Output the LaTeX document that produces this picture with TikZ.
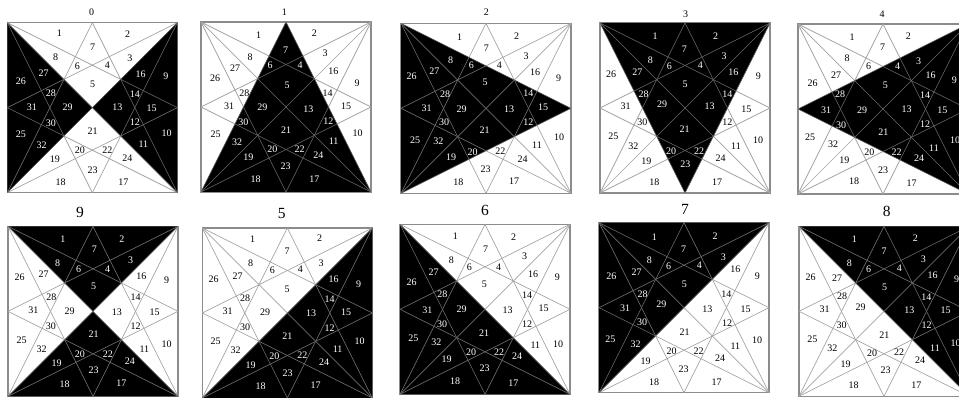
\documentclass[tikz,border=0pt]{standalone}
\usepackage{fontspec}
\setmainfont{Liberation Serif}
\makeatletter
\newcommand\labcol[2]{\edef\tmpa{\noexpand\in@{,#1,}{,#2,}}\tmpa\ifin@\def\lc{white}\else\def\lc{black}\fi}
\makeatother
\definecolor{wire}{gray}{0.64}
\definecolor{wiredark}{gray}{0.42}
\definecolor{frameline}{gray}{0.55}
\tikzset{
  lbl/.style={inner sep=0pt,font=\fontsize{10}{11}\selectfont},
  wirel/.style={draw=wire,line width=0.7pt},
  wired/.style={draw=wiredark,line width=0.6pt},
  framel/.style={draw=frameline,line width=1.1pt},
  smalltitle/.style={inner sep=0pt,font=\fontsize{10}{11}\selectfont},
  bigtitle/.style={inner sep=0pt,font=\fontsize{15.5}{16}\selectfont},
}
\newcommand\wires[1]{%
  \draw[#1] (TL) -- (BR);
  \draw[#1] (TR) -- (BL);
  \draw[#1] (T) -- (BL);
  \draw[#1] (T) -- (BR);
  \draw[#1] (B) -- (TL);
  \draw[#1] (B) -- (TR);
  \draw[#1] (L) -- (TR);
  \draw[#1] (L) -- (BR);
  \draw[#1] (R) -- (TL);
  \draw[#1] (R) -- (BL);
}
% #1 id, #2/#3 crop origin px, #4/#5 square left/top (1/3 px), #6/#7 title pos, #8 title style
\newcommand\panel[8]{%
\begin{scope}[shift={(#2,#3)},x=0.33333pt,y=-0.33333pt,name prefix=p#1-]
  \coordinate (TL) at (#4,#5);
  \coordinate (TR) at (#4+510,#5);
  \coordinate (BL) at (#4,#5+510);
  \coordinate (BR) at (#4+510,#5+510);
  \coordinate (T) at (#4+255,#5);
  \coordinate (B) at (#4+255,#5+510);
  \coordinate (L) at (#4,#5+255);
  \coordinate (R) at (#4+510,#5+255);
  \coordinate (C) at (#4+255,#5+255);
  \draw[framel] (TL) -- (TR) -- (BR) -- (BL) -- cycle;
  \wires{wirel}
  \fill[black] \polypath;
  \begin{scope}
    \clip \polypath;
    \wires{wired}
  \end{scope}
  \node[#8] (title) at (#6,#7) {#1};
  \foreach \n/\x/\y in \labs {
    \labcol{\n}{\wh}
    \node[lbl,text=\lc] (n\n) at (\x,\y) {\n};
  }
\end{scope}}
\begin{document}
\begin{tikzpicture}[x=1pt,y=-1pt]
\clip (0,0) rectangle (959,398);
\fill[white] (0,0) rectangle (959,398);

\def\wh{9,10,11,12,13,14,15,16,25,26,27,28,29,30,31,32}
\def\polypath{(TL)--(BL)--(C)--cycle (TR)--(BR)--(C)--cycle}
\def\labs{1/178/100,2/383/103,3/390/175,4/322/197,5/278/253,6/232/198,7/278/142,8/167/172,9/498/229,10/500/400,11/430/432,12/405/368,13/352/323,14/405/282,15/455/325,16/422/224,17/370/547,18/182/546,19/165/478,20/240/452,21/278/395,22/322/452,23/278/511,24/382/474,25/63/402,26/63/245,27/131/219,28/153/280,29/203/323,30/153/369,31/96/321,32/125/436}
\panel{0}{0}{0}{22}{68}{275}{36}{smalltitle}

\def\wh{4,5,6,7,11,12,13,17,18,19,20,21,22,23,24,29,30,32}
\def\polypath{(T)--(BL)--(BR)--cycle}
\def\labs{1/191/107,2/358/101,3/390/160,4/315/196,5/276/256,6/225/197,7/272/150,8/165/173,9/486/250,10/488/399,11/416/425,12/400/365,13/340/327,14/398/280,15/453/320,16/415/215,17/358/537,18/182/537,19/160/472,20/232/449,21/273/391,22/314/449,23/272/500,24/370/466,25/62/403,26/60/234,27/120/205,28/148/280,29/202/323,30/145/367,31/102/320,32/126/428}
\panel{1}{195}{0}{18}{66}{268}{38}{smalltitle}

\def\wh{5,6,8,12,13,14,15,19,20,21,25,26,27,28,29,30,31,32}
\def\polypath{(TL)--(R)--(BL)--cycle}
\def\labs{1/194/112,2/365/108,3/393/169,4/313/197,5/270/248,6/229/197,7/274/145,8/167/180,9/491/235,10/492/412,11/426/436,12/400/368,13/342/327,14/400/280,15/444/322,16/420/218,17/357/545,18/190/548,19/168/472,20/233/456,21/269/390,22/316/453,23/272/507,24/383/478,25/60/420,26/50/230,27/118/214,28/150/283,29/200/328,30/147/368,31/95/325,32/130/424}
\panel{2}{395}{0}{18}{70}{274}{38}{smalltitle}

\def\wh{1,2,3,4,5,6,7,8,13,14,16,20,21,22,23,27,28,29}
\def\polypath{(TL)--(TR)--(B)--cycle}
\def\labs{1/180/110,2/362/108,3/387/170,4/316/197,5/270/253,6/223/200,7/268/147,8/166/180,9/490/230,10/489/422,11/423/438,12/397/368,13/344/319,14/397/283,15/454/327,16/415/218,17/366/547,18/178/548,19/154/484,20/228/453,21/269/389,22/312/453,23/271/494,24/377/474,25/55/408,26/48/222,27/127/218,28/146/282,29/201/314,30/142/368,31/92/318,32/115/439}
\panel{3}{595}{0}{15}{69}{272}{42}{smalltitle}

\def\wh{3,4,5,9,10,11,12,13,14,15,16,21,22,24,28,29,30,31}
\def\polypath{(L)--(TR)--(BR)--cycle}
\def\labs{1/186/112,2/355/110,3/386/183,4/323/200,5/286/256,6/236/200,7/278/141,8/171/175,9/493/240,10/495/420,11/432/445,12/405/372,13/350/327,14/405/285,15/457/330,16/422/227,17/365/550,18/192/543,19/163/481,20/238/458,21/280/397,22/320/458,23/279/512,24/387/476,25/60/413,26/68/251,27/138/226,28/150/283,29/216/330,30/153/375,31/108/330,32/129/434}
\panel{4}{790}{0}{24}{72}{276}{44}{smalltitle}

\def\wh{1,2,3,4,5,6,7,8,17,18,19,20,21,22,23,24}
\def\polypath{(TL)--(TR)--(C)--cycle (BL)--(BR)--(C)--cycle}
\def\labs{1/189/123,2/366/123,3/392/186,4/323/214,5/281/265,6/236/214,7/283/155,8/173/196,9/500/247,10/500/438,11/433/455,12/407/386,13/351/343,14/407/298,15/464/344,16/424/236,17/364/555,18/194/560,19/170/496,20/240/469,21/281/408,22/324/469,23/281/516,24/390/489,25/65/426,26/59/238,27/131/230,28/154/298,29/209/341,30/153/385,31/100/336,32/125/455}
\panel{9}{0}{198}{24}{85}{240}{42}{bigtitle}

\def\wh{9,10,11,12,13,14,15,16,17,18,19,20,21,22,23,24}
\def\polypath{(TR)--(BR)--(BL)--cycle}
\def\labs{1/173/123,2/374/122,3/378/197,4/316/215,5/276/273,6/232/218,7/276/161,8/167/196,9/491/258,10/494/430,11/428/455,12/404/390,13/348/346,14/404/303,15/453/342,16/416/244,17/362/561,18/197/564,19/167/501,20/238/474,21/277/415,22/322/471,23/278/525,24/387/494,25/62/430,26/56/243,27/128/234,28/150/302,29/210/342,30/150/389,31/98/340,32/122/458}
\panel{5}{195}{198}{22}{90}{260}{46}{bigtitle}

\def\wh{17,18,19,20,21,22,23,24,25,26,27,28,29,30,31,32}
\def\polypath{(TL)--(BL)--(BR)--cycle}
\def\labs{1/181/116,2/356/118,3/389/175,4/311/208,5/268/258,6/223/208,7/272/153,8/169/186,9/487/237,10/489/438,11/421/442,12/396/379,13/338/338,14/396/292,15/446/331,16/414/228,17/355/555,18/180/551,19/155/484,20/228/463,21/267/405,22/312/463,23/269/511,24/366/475,25/55/420,26/50/253,27/116/224,28/142/290,29/200/333,30/141/380,31/97/336,32/124/434}
\panel{6}{395}{198}{15}{79}{270}{38}{bigtitle}

\def\wh{1,2,3,4,5,6,7,8,25,26,27,28,29,30,31,32}
\def\polypath{(TL)--(TR)--(BL)--cycle}
\def\labs{1/178/117,2/360/114,3/385/177,4/313/203,5/268/258,6/221/206,7/266/153,8/163/186,9/487/235,10/486/428,11/421/444,12/396/376,13/337/334,14/394/288,15/452/333,16/421/213,17/365/552,18/177/554,19/152/490,20/230/459,21/269/403,22/311/459,23/266/515,24/375/481,25/46/425,26/49/236,27/125/224,28/143/288,29/199/320,30/141/374,31/90/332,32/122/440}
\panel{7}{595}{198}{12}{74}{270}{35}{bigtitle}

\def\wh{1,2,3,4,5,6,7,8,9,10,11,12,13,14,15,16}
\def\polypath{(TL)--(TR)--(BR)--cycle}
\def\labs{1/193/125,2/376/122,3/400/185,4/328/211,5/284/267,6/236/213,7/282/161,8/178/195,9/500/243,10/497/437,11/435/450,12/410/382,13/358/336,14/409/298,15/467/336,16/428/232,17/379/561,18/191/562,19/167/498,20/246/466,21/283/411,22/327/464,23/287/518,24/390/487,25/67/423,26/62/238,27/141/240,28/156/296,29/212/329,30/155/382,31/104/333,32/127/452}
\panel{8}{790}{198}{27}{85}{290}{40}{bigtitle}
\end{tikzpicture}
\end{document}
